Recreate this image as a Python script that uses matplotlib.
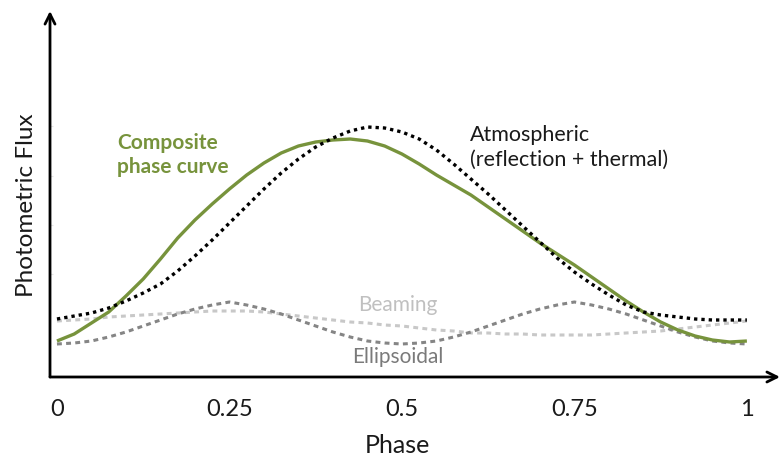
import matplotlib
matplotlib.use("Agg")
import matplotlib.pyplot as plt

plt.rcParams['font.family'] = ['Lato', 'DejaVu Sans']

# orbital phase samples (steps of 0.025) and flux of each component, arbitrary units
phase = [i / 40 for i in range(41)]
composite = [0.36, 0.43, 0.54, 0.65, 0.81, 0.98, 1.18, 1.39, 1.57, 1.73, 1.88,
             2.02, 2.14, 2.24, 2.31, 2.35, 2.37, 2.38, 2.36, 2.31, 2.23,
             2.13, 2.02, 1.92, 1.82, 1.70, 1.58, 1.46, 1.34, 1.23, 1.12,
             1.00, 0.88, 0.76, 0.65, 0.55, 0.47, 0.41, 0.37, 0.35, 0.36]
atmospheric = [0.58, 0.61, 0.64, 0.69, 0.76, 0.84, 0.93, 1.06, 1.21, 1.37, 1.54,
               1.71, 1.88, 2.04, 2.18, 2.30, 2.39, 2.46, 2.50, 2.49, 2.45,
               2.38, 2.27, 2.13, 1.98, 1.83, 1.67, 1.51, 1.35, 1.19, 1.05,
               0.93, 0.82, 0.72, 0.65, 0.62, 0.60, 0.58, 0.57, 0.57, 0.57]
ellipsoidal = [0.33, 0.34, 0.36, 0.40, 0.45, 0.51, 0.57, 0.63, 0.68, 0.72, 0.75,
               0.72, 0.68, 0.63, 0.57, 0.51, 0.45, 0.40, 0.36, 0.34, 0.33,
               0.34, 0.36, 0.40, 0.45, 0.51, 0.57, 0.63, 0.68, 0.72, 0.75,
               0.72, 0.68, 0.63, 0.57, 0.51, 0.45, 0.40, 0.36, 0.34, 0.33]
beaming = [0.56, 0.57, 0.58, 0.60, 0.61, 0.62, 0.63, 0.64, 0.65, 0.66, 0.66,
           0.66, 0.65, 0.63, 0.61, 0.59, 0.57, 0.55, 0.54, 0.52, 0.51,
           0.49, 0.47, 0.46, 0.44, 0.44, 0.43, 0.43, 0.42, 0.42, 0.42,
           0.42, 0.43, 0.44, 0.45, 0.46, 0.48, 0.50, 0.52, 0.54, 0.56]

xticks = [0, 0.25, 0.5, 0.75, 1]
xtick_labels = ['0', '0.25', '0.5', '0.75', '1']
faint_yticks = [1.03, 1.52, 2.01, 2.51]

green = '#77933c'
dark = '#1a1a1a'

fig = plt.figure(figsize=(7.83, 4.60), dpi=100)
ax = fig.add_axes([50 / 783, 82 / 460, 730 / 783, 366 / 460])
ax.set_xlim(-0.0101, 1.048)
ax.set_ylim(0, 3.66)

ax.plot(phase, beaming, color='#c8c8c8', lw=2.2, ls=(0, (1.6, 1.4)), zorder=2)
ax.plot(phase, ellipsoidal, color='#858585', lw=2.2, ls=(0, (1.6, 1.4)), zorder=2)
ax.plot(phase, composite, color=green, lw=2.4, solid_capstyle='butt',
        solid_joinstyle='round', zorder=3)
ax.plot(phase, atmospheric, color='black', lw=2.4, ls=(0, (1.0, 1.2)), zorder=4)

for s in ax.spines.values():
    s.set_visible(False)

# axes drawn as arrows
arrow = dict(arrowstyle='->', lw=2.0, color='black', shrinkA=0, shrinkB=0,
             mutation_scale=18)
ax.annotate('', xy=(1.0, 0.0), xytext=(0.0, 0.0), xycoords='axes fraction',
            arrowprops=arrow)
ax.annotate('', xy=(0.0, 1.0), xytext=(0.0, 0.0), xycoords='axes fraction',
            arrowprops=arrow)

ax.set_xticks(xticks)
ax.set_xticklabels(xtick_labels, fontsize=17, color=dark)
ax.tick_params(axis='x', length=0, pad=15)
ax.set_yticks(faint_yticks)
ax.set_yticklabels([])
ax.tick_params(axis='y', length=2, color='#e6e6e6', direction='in')

ax.set_xlabel('Phase', fontsize=18, color=dark)
ax.set_ylabel('Photometric Flux', fontsize=17.5, color=dark)
ax.xaxis.set_label_coords((397 - 50) / 730, -(434 - 378) / 366)
ax.yaxis.set_label_coords(-(50 - 37) / 730, (378 - 205) / 366)

ax.text(0.087, 2.23, 'Composite\nphase curve', color=green, fontsize=15,
        fontweight='bold', ha='left', va='center', linespacing=1.3)
ax.text(0.598, 2.31, 'Atmospheric\n(reflection + thermal)', color=dark,
        fontsize=15.5, ha='left', va='center', linespacing=1.3)
ax.text(0.494, 0.73, 'Beaming', color='#c0c0c0', fontsize=15,
        ha='center', va='center')
ax.text(0.494, 0.21, 'Ellipsoidal', color='#7a7a7a', fontsize=15,
        ha='center', va='center')

fig.savefig('out.png', dpi=100)
